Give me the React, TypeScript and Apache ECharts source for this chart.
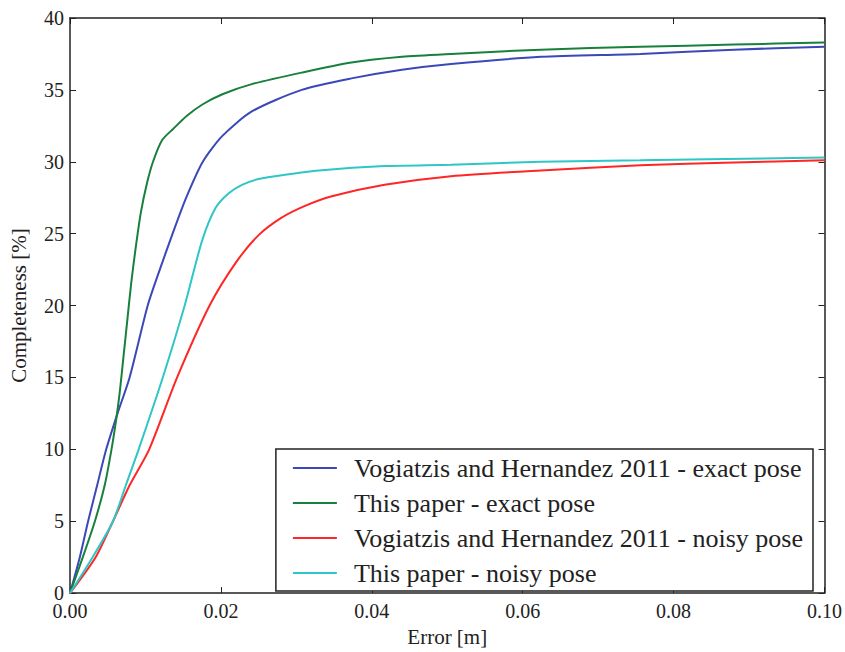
import React, { useEffect, useRef } from "react";
import * as echarts from "echarts";

const seriesNames = [
  "Vogiatzis and Hernandez 2011 - exact pose",
  "This paper - exact pose",
  "Vogiatzis and Hernandez 2011 - noisy pose",
  "This paper - noisy pose",
];
const seriesColors = ["#3a48b8", "#18803c", "#ff2626", "#2ec6c6"];

const vogExact: [number, number][] = [
  [0, 0], [0.0013, 2.5], [0.0024, 5], [0.0036, 7.5], [0.0048, 10], [0.0063, 12.5],
  [0.0079, 15], [0.0103, 20], [0.0119, 22.5], [0.0136, 25], [0.0154, 27.5], [0.0176, 30],
  [0.0202, 31.8], [0.0241, 33.5], [0.0307, 35.0], [0.0373, 35.8], [0.044, 36.4],
  [0.0505, 36.8], [0.0624, 37.3], [0.0756, 37.5], [0.088, 37.8], [0.1, 38.0],
];
const paperExact: [number, number][] = [
  [0, 0], [0.0017, 2.5], [0.0033, 5], [0.0046, 7.5], [0.0055, 10], [0.0061, 12],
  [0.0066, 14], [0.0071, 16.5], [0.0076, 19], [0.0081, 21.5], [0.0087, 24],
  [0.0094, 26.5], [0.0102, 28.5], [0.011, 30], [0.0122, 31.5], [0.0137, 32.3],
  [0.0155, 33.2], [0.0176, 34.0], [0.0202, 34.7], [0.0241, 35.4], [0.0307, 36.2],
  [0.0373, 36.9], [0.044, 37.3], [0.0505, 37.5], [0.0624, 37.8], [0.0756, 38.0],
  [0.088, 38.15], [0.1, 38.3],
];
const vogNoisy: [number, number][] = [
  [0, 0], [0.0034, 2.5], [0.0057, 5], [0.0079, 7.5], [0.0105, 10], [0.0142, 15],
  [0.0185, 20], [0.022, 23], [0.025, 24.9], [0.028, 26.1], [0.031, 26.9],
  [0.0347, 27.6], [0.0417, 28.4], [0.0505, 29.0], [0.0624, 29.4], [0.0756, 29.75],
  [0.088, 29.95], [0.1, 30.1],
];
const paperNoisy: [number, number][] = [
  [0, 0], [0.003, 2.5], [0.0057, 5], [0.0074, 7.5], [0.0091, 10], [0.0123, 15],
  [0.0152, 20], [0.0175, 24.5], [0.0193, 26.8], [0.021, 27.8], [0.0228, 28.4],
  [0.025, 28.8], [0.0285, 29.1], [0.033, 29.4], [0.0417, 29.7], [0.0505, 29.8],
  [0.0624, 30.0], [0.0756, 30.1], [0.1, 30.3],
];
const allData = [vogExact, paperExact, vogNoisy, paperNoisy];

const FONT = "Liberation Serif";
const AXIS_COLOR = "#222";

export default function App() {
  const ref = useRef<HTMLDivElement>(null);
  useEffect(() => {
    if (!ref.current) return;
    const chart = echarts.init(ref.current, undefined, { renderer: "svg" });
    const tickCommon = {
      axisLine: { show: true, onZero: false, lineStyle: { color: AXIS_COLOR, width: 1.5 } },
      axisTick: { show: true, inside: true, length: 6, lineStyle: { color: AXIS_COLOR, width: 1 } },
      splitLine: { show: false },
    };
    chart.setOption({
      animation: false,
      backgroundColor: "#ffffff",
      textStyle: { fontFamily: FONT },
      grid: { left: 67, right: 20, top: 18, bottom: 49, containLabel: false },
      xAxis: [
        {
          type: "value", min: 0, max: 0.1, interval: 0.02, position: "bottom",
          name: "Error [m]", nameLocation: "middle", nameGap: 31,
          nameTextStyle: { fontFamily: FONT, fontSize: 21, color: "#222" },
          axisLabel: {
            fontFamily: FONT, fontSize: 20, color: "#222", margin: 8,
            formatter: (v: number) => v.toFixed(2),
          },
          ...tickCommon,
        },
        {
          type: "value", min: 0, max: 0.1, interval: 0.02, position: "top",
          axisLabel: { show: false }, ...tickCommon,
        },
      ],
      yAxis: [
        {
          type: "value", min: 0, max: 40, interval: 5, position: "left",
          name: "Completeness [%]", nameLocation: "middle", nameGap: 41,
          nameTextStyle: { fontFamily: FONT, fontSize: 21, color: "#222" },
          axisLabel: { fontFamily: FONT, fontSize: 20, color: "#222", margin: 6 },
          ...tickCommon,
        },
        {
          type: "value", min: 0, max: 40, interval: 5, position: "right",
          axisLabel: { show: false }, ...tickCommon,
        },
      ],
      legend: {
        orient: "vertical",
        right: 32,
        bottom: 61,
        data: seriesNames,
        icon: "rect",
        itemWidth: 44,
        itemHeight: 2,
        itemGap: 7,
        padding: [5, 10, 4, 17],
        borderColor: "#222",
        borderWidth: 1.5,
        backgroundColor: "#fff",
        textStyle: { fontFamily: FONT, fontSize: 26, color: "#222", lineHeight: 28, padding: [0, 0, 0, 12] },
      },
      series: seriesNames.map((name, i) => ({
        name,
        type: "line",
        data: allData[i],
        showSymbol: false,
        symbol: "none",
        smooth: 0.25,
        lineStyle: { color: seriesColors[i], width: 2 },
        itemStyle: { color: seriesColors[i] },
        z: 2,
      })),
    });
    return () => chart.dispose();
  }, []);
  return (
    <div
      ref={ref}
      style={{ position: "fixed", left: 0, top: 0, width: 845, height: 652, background: "#fff" }}
    />
  );
}
